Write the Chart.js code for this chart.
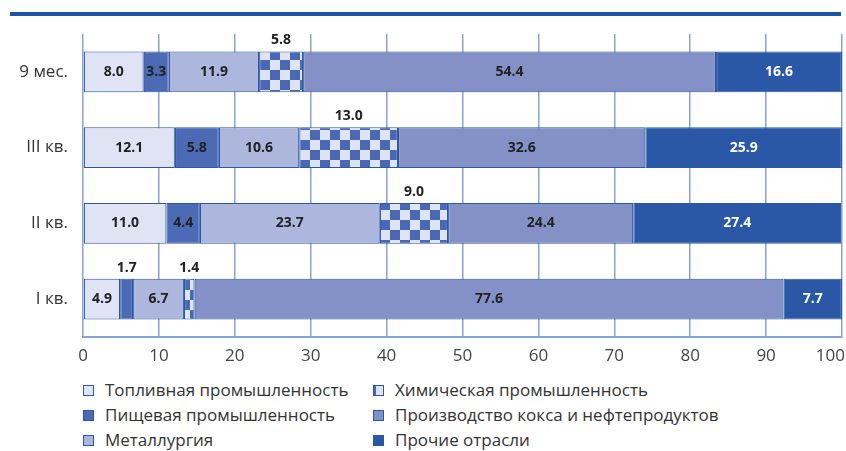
<!DOCTYPE html>
<html>
<head>
<meta charset="utf-8">
<script src="https://cdn.jsdelivr.net/npm/chart.js@4"></script>
<style>
  body { margin: 0; background: #fff; }
  #wrap { position: relative; width: 846px; height: 451px; }
  #topline { position: absolute; left: 10px; top: 12px; width: 831px; height: 4px; background: #1b55a5; }
  #box { position: absolute; left: 0; top: 0; width: 846px; height: 372px; }
  #legend { position: absolute; left: 0; top: 379px; width: 846px; font: 17px "Open Sans", sans-serif; color: #333; }
  .item { position: absolute; height: 22px; line-height: 22px; white-space: nowrap; }
  .sw { position: absolute; left: 0; top: 6px; width: 9px; height: 9px; border: 1px solid #2a58a6; }
  .lbl { position: absolute; left: 22px; top: 0; }
</style>
</head>
<body>
<div id="wrap">
  <div id="topline"></div>
  <div id="box"><canvas id="chart"></canvas></div>
  <div id="legend"></div>
</div>
<script>
// ---- data ----
const categories = ["9 мес.", "III кв.", "II кв.", "I кв."];
const seriesNames = [
  "Топливная промышленность",
  "Пищевая промышленность",
  "Металлургия",
  "Химическая промышленность",
  "Производство кокса и нефтепродуктов",
  "Прочие отрасли"
];
const fuel = [8.0, 12.1, 11.0, 4.9];
const food = [3.3, 5.8, 4.4, 1.7];
const metal = [11.9, 10.6, 23.7, 6.7];
const chem = [5.8, 13.0, 9.0, 1.4];
const coke = [54.4, 32.6, 24.4, 77.6];
const other = [16.6, 25.9, 27.4, 7.7];
const xTicks = [0, 10, 20, 30, 40, 50, 60, 70, 80, 90, 100];

const BORDER = "#2a58a6";
const GRID = "#86a4d2";

// checker pattern for chemistry
function checker() {
  const c = document.createElement("canvas");
  c.width = 20; c.height = 20;
  const g = c.getContext("2d");
  g.fillStyle = "#dfe4f4"; g.fillRect(0, 0, 20, 20);
  g.fillStyle = "#4a68b5";
  g.fillRect(0, 0, 10, 10); g.fillRect(10, 10, 10, 10);
  return g.createPattern(c, "repeat");
}

const colors = ["#dfe3f3", "#4d6bb5", "#adb6dc", checker(), "#8491c7", "#2a58a6"];
const values = [fuel, food, metal, chem, coke, other];

// legend, column-first like the original
const legend = document.getElementById("legend");
const legendBg = ["#dfe3f3", "#4d6bb5", "#adb6dc",
  "linear-gradient(90deg,#4a68b5 0 2px,#dfe4f4 2px)", "#8491c7", "#2a58a6"];
seriesNames.forEach((n, i) => {
  const col = Math.floor(i / 3), row = i % 3;
  const d = document.createElement("div");
  d.className = "item";
  d.style.left = (col ? 373 : 83) + "px";
  d.style.top = (row * 25) + "px";
  d.innerHTML = `<span class="sw" style="background:${legendBg[i]}"></span><span class="lbl">${n}</span>`;
  legend.appendChild(d);
});

// value labels
const valueLabels = {
  id: "valueLabels",
  afterDatasetsDraw(chart) {
    const ctx = chart.ctx;
    ctx.save();
    ctx.font = "bold 14px 'Open Sans', sans-serif";
    ctx.textAlign = "center";
    ctx.textBaseline = "middle";
    chart.data.datasets.forEach((ds, i) => {
      chart.getDatasetMeta(i).data.forEach((bar, j) => {
        const v = ds.data[j];
        const cx = (bar.x + bar.base) / 2;
        let cy = bar.y;
        if (i === 3 || v < 2) cy = bar.y - bar.height / 2 - 11;
        ctx.fillStyle = (i === 5) ? "#fff" : "#222";
        ctx.fillText(v.toFixed(1), cx, cy);
      });
    });
    ctx.restore();
  }
};

// x tick labels, last one kept inside the canvas
const xLabels = {
  id: "xLabels",
  afterDraw(chart) {
    const ctx = chart.ctx, sc = chart.scales.x;
    ctx.save();
    ctx.font = "17px 'Open Sans', sans-serif";
    ctx.fillStyle = "#444";
    ctx.textBaseline = "middle";
    ctx.textAlign = "center";
    xTicks.forEach((t) => {
      let px = sc.getPixelForValue(t);
      const w = ctx.measureText(String(t)).width;
      if (px + w / 2 > chart.width - 1) px = chart.width - 1 - w / 2;
      ctx.fillText(String(t), px, 356);
    });
    ctx.restore();
  }
};

new Chart(document.getElementById("chart"), {
  type: "bar",
  data: {
    labels: categories,
    datasets: seriesNames.map((n, i) => ({
      label: n,
      data: values[i],
      backgroundColor: colors[i],
      borderColor: BORDER,
      borderWidth: 1.2,
      borderSkipped: false,
      categoryPercentage: 1,
      barPercentage: 0.54
    }))
  },
  options: {
    indexAxis: "y",
    responsive: true,
    maintainAspectRatio: false,
    animation: false,
    layout: { padding: { top: 34, right: 4, left: 0, bottom: 0 } },
    plugins: { legend: { display: false }, tooltip: { enabled: false } },
    scales: {
      x: {
        stacked: true,
        min: 0,
        max: 100,
        afterBuildTicks: (s) => { s.ticks = xTicks.map((v) => ({ value: v })); },
        ticks: { display: false },
        grid: { color: GRID, lineWidth: 1.5, drawTicks: false },
        border: { color: GRID, width: 2 },
        afterFit: (s) => { s.height = 35; s.paddingLeft = 0; s.paddingRight = 0; }
      },
      y: {
        stacked: true,
        grid: { display: false, drawTicks: false },
        border: { display: false },
        ticks: { color: "#333", font: { family: "'Open Sans', sans-serif", size: 17 }, padding: 15 },
        afterFit: (s) => { s.width = 83; }
      }
    }
  },
  plugins: [valueLabels, xLabels]
});
</script>
</body>
</html>
